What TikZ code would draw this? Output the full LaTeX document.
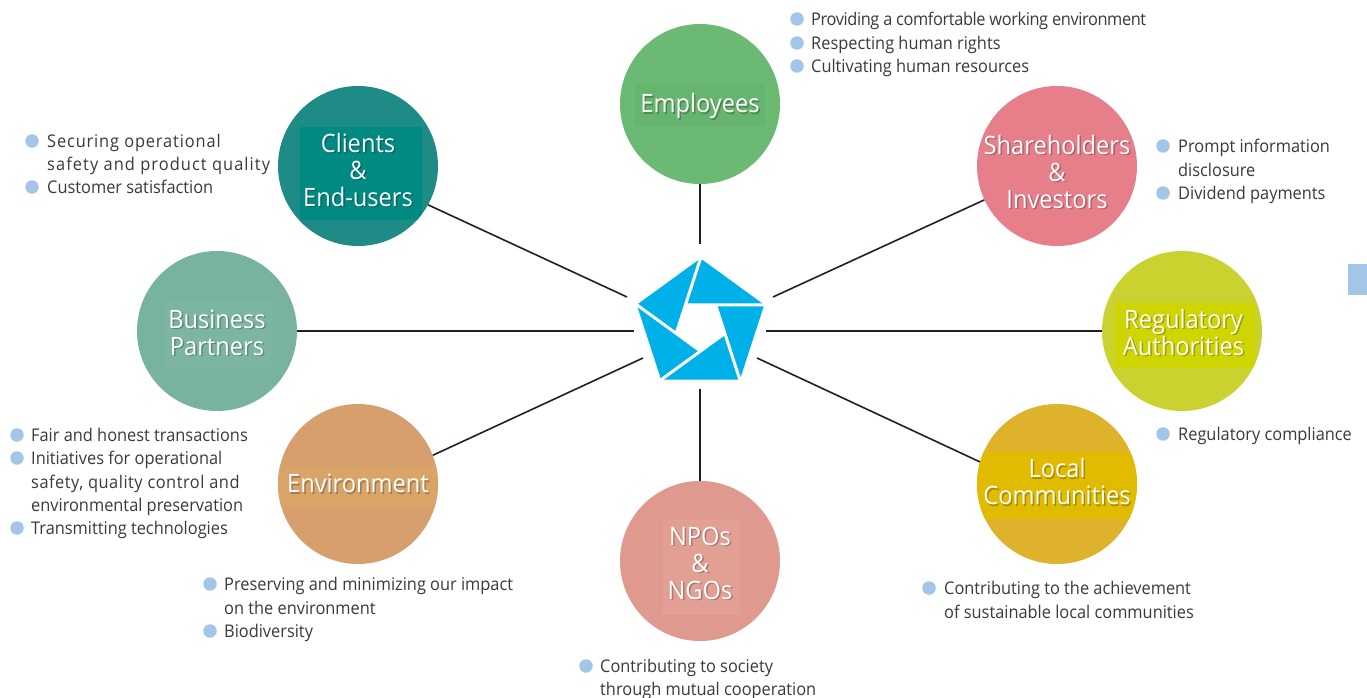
\documentclass[tikz,border=0pt]{standalone}
\usepackage{fontspec}
\setmainfont{Open Sans}[FakeStretch=0.935]
\definecolor{txt}{HTML}{3A3A3A}
\definecolor{bulc}{HTML}{A3C6E8}
\definecolor{linec}{HTML}{231F20}
\definecolor{logo}{HTML}{00B0E8}
\definecolor{empC}{HTML}{6BB973}\definecolor{empR}{HTML}{66B56E}
\definecolor{cliC}{HTML}{1F8B86}\definecolor{cliR}{HTML}{008A82}
\definecolor{shaC}{HTML}{E67F8A}
\definecolor{busC}{HTML}{78B2A0}\definecolor{busR}{HTML}{7CB6A3}
\definecolor{regC}{HTML}{CAD22F}\definecolor{regR}{HTML}{CFD500}
\definecolor{envC}{HTML}{D79F6E}\definecolor{envR}{HTML}{DAA468}
\definecolor{locC}{HTML}{DFB22C}\definecolor{locR}{HTML}{E1BB00}
\definecolor{npoC}{HTML}{DF998F}\definecolor{npoR}{HTML}{E2A095}
\tikzset{
  body/.style={anchor=base west, inner sep=0, text=txt, font=\fontsize{17.5}{23.5}\selectfont},
  bul/.style={circle, fill=bulc, inner sep=0, minimum size=13.5},
  hubc/.style={circle, minimum size=160, inner sep=0},
  lbl/.style={text=white, align=center, inner sep=0, font=\fontsize{25.3}{27}\selectfont},
  lblsh/.style={text=black, opacity=0.25, align=center, inner sep=0, font=\fontsize{25.3}{27}\selectfont},
  conn/.style={draw=linec, line width=1.6},
}
\begin{document}
\begin{tikzpicture}[x=1pt,y=-1pt]
\useasboundingbox (0,0) rectangle (1367,698);
\fill[white] (0,0) rectangle (1367,698);

% circles
\node[hubc, fill=empC] (emp) at (700,104) {};
\node[hubc, fill=cliC] (cli) at (358,166) {};
\node[hubc, fill=shaC] (sha) at (1057,166) {};
\node[hubc, fill=busC] (bus) at (217,331) {};
\node[hubc, fill=regC] (reg) at (1182,331) {};
\node[hubc, fill=envC] (env) at (358,484) {};
\node[hubc, fill=locC] (loc) at (1057,484) {};
\node[hubc, fill=npoC] (npo) at (700,561) {};

% text background panels inside circles
\begin{scope}\clip (700,104) circle (80);\fill[empR] (635,84) rectangle (765,126);\end{scope}
\begin{scope}\clip (358,166) circle (80);\fill[cliR] (300,127) rectangle (422,220);\end{scope}
\begin{scope}\clip (217,331) circle (80);\fill[busR] (166,302) rectangle (273,369);\end{scope}
\begin{scope}\clip (1182,331) circle (80);\fill[regR] (1115,303) rectangle (1255,368);\end{scope}
\begin{scope}\clip (358,484) circle (80);\fill[envR] (270,466) rectangle (450,507);\end{scope}
\begin{scope}\clip (1057,484) circle (80);\fill[locR] (970,452) rectangle (1145,519);\end{scope}
\begin{scope}\clip (700,561) circle (80);\fill[npoR] (663,520) rectangle (740,615);\end{scope}

% labels (shadow + text)
\node[lblsh] (empS) at (701.5,107.5) {Employees};
\node[lbl] (empL) at (700,106) {Employees};
\node[lblsh] (cliS) at (359.5,171.5) {Clients\\\&\\End-users};
\node[lbl] (cliL) at (358,170) {Clients\\\&\\End-users};
\node[lblsh] (shaS) at (1058.5,173.5) {Shareholders\\\&\\Investors};
\node[lbl] (shaL) at (1057,172) {Shareholders\\\&\\Investors};
\node[lblsh] (busS) at (218.5,334) {Business\\Partners};
\node[lbl] (busL) at (217,332.5) {Business\\Partners};
\node[lblsh] (regS) at (1185,334) {Regulatory\\Authorities};
\node[lbl] (regL) at (1183.5,332.5) {Regulatory\\Authorities};
\node[lblsh] (envS) at (359.5,485) {Environment};
\node[lbl] (envL) at (358,483.5) {Environment};
\node[lblsh] (locS) at (1058.5,483.5) {Local\\Communities};
\node[lbl] (locL) at (1057,482) {Local\\Communities};
\node[lblsh] (npoS) at (701.5,564.5) {NPOs\\\&\\NGOs};
\node[lbl] (npoL) at (700,563) {NPOs\\\&\\NGOs};

% logo
\begin{scope}[shift={(700.5,325.5)}]
  \foreach \k/\a in {0/-90,1/-18,2/54,3/126,4/198} {
    \coordinate (V\k) at (\a:67);
  }
  \foreach \k/\a in {0/162,1/-126,2/-54,3/18,4/90} {
    \coordinate (X\k) at (\a:25.6);
  }
  \fill[logo] (V0)--(V1)--(V2)--(V3)--(V4)--cycle;
  \foreach \k in {0,...,4} { \draw[white, line width=3] (V\k) -- (X\k); }
  \fill[white] (X0)--(X1)--(X2)--(X3)--(X4)--cycle;
\end{scope}

% connector inner ends
\coordinate (hN) at (700,244);
\coordinate (hS) at (700,389);
\coordinate (hW) at (634,332);
\coordinate (hE) at (766,332);
\coordinate (hNW) at (627,297);
\coordinate (hNE) at (773,297);
\coordinate (hSW) at (643,358);
\coordinate (hSE) at (757,358);

\draw[conn] (emp.270) -- (hN);
\draw[conn] (npo.90) -- (hS);
\draw[conn] (bus.0) -- (bus.0 -| hW);
\draw[conn] (reg.180) -- (reg.180 -| hE);
\draw[conn] (cli.331) -- (hNW);
\draw[conn] (sha.205) -- (hNE);
\draw[conn] (env.21) -- (hSW);
\draw[conn] (loc.164) -- (hSE);

% side tab
\fill[bulc] (1348,264) rectangle (1367,295);

% Employees items
\node[bul] (eb1) at (797,19) {};
\node[bul] (eb2) at (797,43) {};
\node[bul] (eb3) at (797,66) {};
\node[body] (et1) at (811,25.5) {\addfontfeatures{LetterSpace=-2.2}Providing a comfortable working environment};
\node[body] (et2) at (811,49.5) {Respecting human rights};
\node[body] (et3) at (811,72.5) {Cultivating human resources};

% Clients items
\node[bul] (cb1) at (32,141) {};
\node[bul] (cb2) at (32,187) {};
\node[body] (ct1) at (47,147.5) {\addfontfeatures{LetterSpace=5}Securing operational};
\node[body] (ct2) at (47,170.5) {\addfontfeatures{LetterSpace=6.2}safety and product quality};
\node[body] (ct3) at (47,193.5) {Customer satisfaction};

% Shareholders items
\node[bul] (sb1) at (1163,146) {};
\node[bul] (sb2) at (1163,193) {};
\node[body] (st1) at (1178,152.5) {Prompt information};
\node[body] (st2) at (1178,176) {disclosure};
\node[body] (st3) at (1178,199.5) {Dividend payments};

% Business partners items
\node[bul] (bb1) at (17,435) {};
\node[bul] (bb2) at (17,458) {};
\node[bul] (bb3) at (17,528) {};
\node[body] (bt1) at (31,441.5) {Fair and honest transactions};
\node[body] (bt2) at (31,464.5) {Initiatives for operational};
\node[body] (bt3) at (31,488) {\addfontfeatures{LetterSpace=3}safety, quality control and};
\node[body] (bt4) at (31,511.5) {environmental preservation};
\node[body] (bt5) at (31,534.5) {Transmitting technologies};

% Regulatory items
\node[bul] (rb1) at (1163,434) {};
\node[body] (rt1) at (1178,440.5) {Regulatory compliance};

% Environment items
\node[bul] (vb1) at (210,584) {};
\node[bul] (vb2) at (210,631) {};
\node[body] (vt1) at (224,590.5) {Preserving and minimizing our impact};
\node[body] (vt2) at (224,614) {on the environment};
\node[body] (vt3) at (224,637.5) {Biodiversity};

% NPOs items
\node[bul] (nb1) at (586,666) {};
\node[body] (nt1) at (600,672.5) {Contributing to society};
\node[body] (nt2) at (600,695.5) {through mutual cooperation};

% Local items
\node[bul] (lb1) at (929,588) {};
\node[body] (lt1) at (944,594.5) {Contributing to the achievement};
\node[body] (lt2) at (944,618) {of sustainable local communities};
\end{tikzpicture}
\end{document}
